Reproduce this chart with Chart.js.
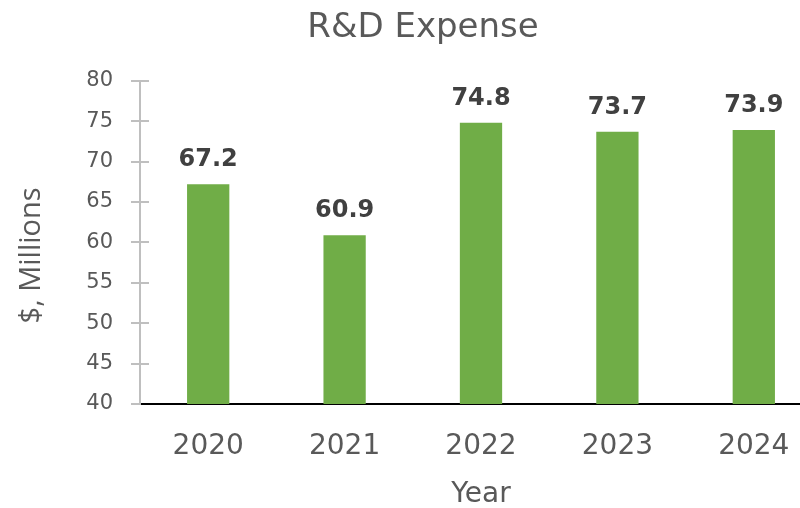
<!DOCTYPE html>
<html>
<head>
<meta charset="utf-8">
<script src="https://cdn.jsdelivr.net/npm/chart.js@4.4.1/dist/chart.umd.min.js"></script>
<style>
  html, body { margin: 0; padding: 0; background: #fff; overflow: hidden; }
  #wrap { width: 846px; height: 508px; }
</style>
</head>
<body>
<div id="wrap"><canvas id="chart" width="846" height="508"></canvas></div>
<script>
const years = ['2020', '2021', '2022', '2023', '2024']
const expense = [67.2, 60.9, 74.8, 73.7, 73.9]
const yMin = 40, yMax = 80, yStep = 5
const yTitle = '$, Millions'

const FONT = "'DejaVu Sans', sans-serif"
const GREY = '#595959'

// labels above the bars, bold
const barLabels = {
  id: 'barLabels',
  afterDatasetsDraw(chart) {
    const { ctx } = chart
    const meta = chart.getDatasetMeta(0)
    ctx.save()
    ctx.font = `bold 24px ${FONT}`
    ctx.fillStyle = '#404040'
    ctx.textAlign = 'center'
    ctx.textBaseline = 'alphabetic'
    meta.data.forEach((bar, i) => {
      ctx.fillText(expense[i].toFixed(1), bar.x, bar.y - 18)
    })
    ctx.restore()
  }
}

// excel style ticks crossing the value axis + rotated axis title
const axisExtras = {
  id: 'axisExtras',
  afterDraw(chart) {
    const { ctx } = chart
    const y = chart.scales.y
    const x0 = chart.chartArea.left
    ctx.save()
    ctx.strokeStyle = '#BFBFBF'
    ctx.lineWidth = 2
    for (let v = yMin + yStep; v <= yMax; v += yStep) {
      const py = Math.round(y.getPixelForValue(v))
      ctx.beginPath()
      ctx.moveTo(x0, py)
      ctx.lineTo(x0 + 9, py)
      ctx.stroke()
    }
    ctx.translate(32, (chart.chartArea.top + chart.chartArea.bottom) / 2 + 13)
    ctx.rotate(-Math.PI / 2)
    ctx.font = "29px 'Open Sans', sans-serif"
    ctx.fillStyle = GREY
    ctx.textAlign = 'center'
    ctx.textBaseline = 'middle'
    ctx.fillText(yTitle, 0, 0)
    ctx.restore()
  }
}

new Chart(document.getElementById('chart'), {
  type: 'bar',
  data: {
    labels: years,
    datasets: [{
      label: 'R&D Expense',
      data: expense,
      backgroundColor: '#70AD47',
      borderWidth: 0,
      barPercentage: 0.31,
      categoryPercentage: 1,
    }],
  },
  options: {
    responsive: false,
    animation: false,
    layout: { padding: { left: 24, right: 24, top: 0, bottom: 0 } },
    plugins: {
      legend: { display: false },
      tooltip: { enabled: false },
      title: {
        display: true,
        text: 'R&D Expense',
        color: GREY,
        font: { family: FONT, size: 34, weight: 'normal' },
        padding: { top: 8, bottom: 32 },
      },
    },
    scales: {
      x: {
        afterFit(scale) { scale.height = 104 },
        grid: { display: true, drawOnChartArea: false, drawTicks: false, color: 'transparent' },
        border: { display: true, color: '#000', width: 2 },
        ticks: { color: GREY, font: { family: FONT, size: 28 }, padding: 26 },
        title: {
          display: true, text: 'Year', color: GREY,
          font: { family: FONT, size: 28 }, padding: { top: 0, bottom: -4 },
        },
      },
      y: {
        min: yMin, max: yMax,
        afterFit(scale) { scale.width = 116 },
        grid: { drawOnChartArea: false, tickLength: 9, color: '#BFBFBF', lineWidth: 2 },
        border: { display: true, color: '#BFBFBF', width: 2 },
        ticks: { stepSize: yStep, color: GREY, font: { family: FONT, size: 21 }, padding: 18 },
        title: { display: false },
      },
    },
  },
  plugins: [barLabels, axisExtras],
})
</script>
</body>
</html>
